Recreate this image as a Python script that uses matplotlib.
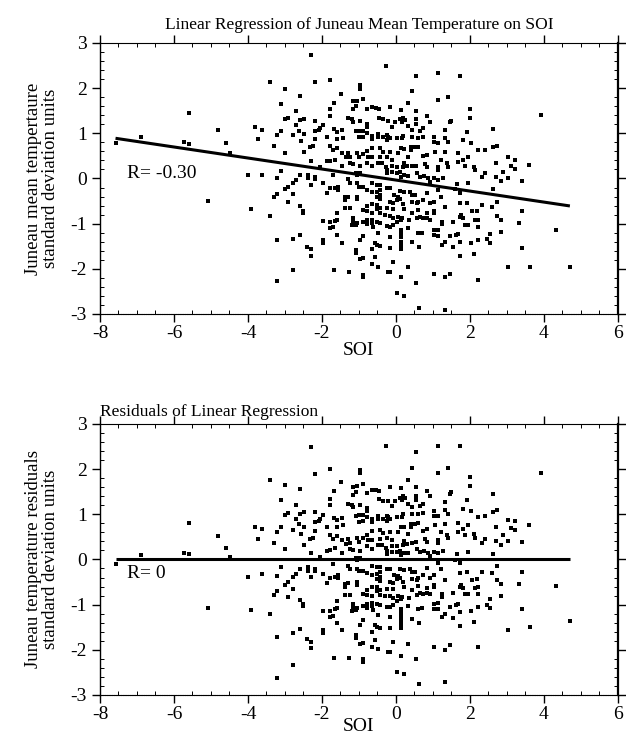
import numpy as np
import matplotlib
matplotlib.use("Agg")
import matplotlib.pyplot as plt
from matplotlib.ticker import MultipleLocator

plt.rcParams['font.family'] = ['Liberation Serif', 'DejaVu Serif']
plt.rcParams['axes.unicode_minus'] = False

# Monthly SOI and standardized Juneau mean temperature (x, y pairs)
soi = [
    -7.58, -6.89, -5.59, -5.72, -5.59, -4.80, -4.60, -4.49, -5.09, -4.01, -3.61, -3.92,
    -3.81, -3.61, -3.72, -3.40, -3.00, -3.11, -3.00, -2.91, -3.11, -3.22, -3.31, -3.00,
    -3.11, -3.22, -3.00, -2.91, -3.22, -3.31, -2.91, -3.40, -3.22, -3.22,
    -2.30, -2.19, -1.77, -0.27, -0.97, -0.97, -2.59, -1.49, -1.68, -1.15, -1.06, -0.88,
    -1.78, -1.08, -1.17, -0.78, -0.66, -0.54, -0.45, -2.70, -1.78, -2.59, -2.49, -2.19,
    -1.29, -1.20, -1.15, -0.97, -0.78, -0.78, -0.45, -0.34, -0.21, -2.70, -1.97, -2.05,
    -2.19, -2.07, -1.68, -1.59, -1.47, -2.61, -2.49, -2.79, -1.08, -0.99, -0.88, -0.78,
    -0.99, -0.90, -0.66, -0.66, -0.48, -0.48, -0.34, -0.21, -2.19, -1.87, -1.59, -1.42,
    -2.58, -2.32, -2.23, -1.78, -2.49, -1.69, -1.59, -1.47, -1.29, -1.24, -1.35, -1.06,
    -0.88, -0.78, -0.66, -0.43, -0.34, -0.99, -0.75, -0.66, -0.43, -0.25, -2.30, -2.05,
    -1.87, -1.78, -1.65, -1.47, -1.24, -1.15, -0.97, -0.78, -0.66, -0.48, -0.39, -0.27,
    -2.59, -2.70, -2.79, -2.37, -2.37, -2.19, -2.19, -1.70, -1.97, -2.30, -1.29, -1.24,
    -1.06, -0.97, -1.08, -1.78, -1.65, -1.56, -1.56, -1.87, -2.79, -1.04, -0.99, -0.88,
    -0.78, -0.66, -0.52, -0.43, -0.43, -0.52, -0.66, -0.43, -0.52, -0.43, -1.38, -1.29,
    -1.38, -1.06, -1.06, -2.59, -2.50, -2.50, -1.38, -1.24, -0.88, -0.78, -0.66, -0.78,
    -0.66, -0.52, -0.52, -0.43, -0.43, -1.59, -1.17, -1.17, -1.17, -1.06, -1.97, -1.78,
    -1.65, -1.59, -1.70, -1.78, -0.88, -0.79, -0.66, -0.66, -0.78, -0.62, -0.52, -0.43,
    -1.20, -1.08, -2.59, -2.79, -1.97, -1.97, -1.59, -1.47, -0.88, -0.97, -0.48, -0.57,
    -0.52, -0.43, -0.66, -2.40, -2.31, -2.31, -1.08, -1.08, -0.97, -0.88, -0.57, -0.66,
    -0.48, -2.79, -1.68, -1.27, -0.88, -0.88, -0.21,
    0.54, 1.13, 1.72, 0.44, 1.13, 1.41, 0.32, -0.16, 0.14, 0.54, 2.01, 2.01,
    0.83, 0.11, 0.20, 0.15, 0.24, -0.03, 0.54, 0.54, 0.92, 1.50, 1.46, -0.10,
    0.32, 0.44, 0.65, 0.74, 1.32, 1.91, 2.61, -0.23, -0.16, -0.23, 0.04, 0.15,
    0.20, 0.42, 0.60, 0.74, 1.04, 1.04, 1.13, 1.32, 1.41, 1.82, 2.03, -0.16,
    0.14, 0.22, 0.06, 0.41, 0.41, 0.51, 0.60, 0.33, 0.74, 0.83, 1.05, 1.32,
    1.23, 1.67, 1.95, 2.22, 2.41, 2.61, -0.12, 0.22, 0.29, 0.42, 0.53, 0.20,
    0.78, 0.83, 1.14, 1.37, 1.41, 1.68, 1.82, 1.86, 2.12, -0.10, 0.04,
    -0.25, -0.25, -0.12, 0.02, 0.11, 0.14, 0.22, 0.33, 0.56, 0.65, 0.76, 0.87,
    0.92, 1.04, 1.14, 1.14, 1.28, 1.64, 1.94, 2.14, 2.32, 2.41, 2.61, -0.25,
    -0.16, 0.11, 0.22, 0.38, 0.42, 0.51, -0.05, 0.06, 0.83, 1.14, 1.59, 1.73,
    -0.16, -0.07, 0.02, 0.11, 0.20, 0.42, 0.56, 0.60, 0.74, 0.92, 1.04, 1.23,
    -0.25, -0.07, 0.22, 0.60, 0.42, 0.83, 1.04, 1.04, 1.32, 1.73, 1.91, 2.06,
    2.32, 2.18, 2.59, -0.30, -0.16, -0.07, 0.06, 0.15, 0.02, 0.14, 0.35, 0.56,
    0.65, 0.74, 0.83, 0.92, -0.25, -0.16, -0.07, 0.14, 0.14, 0.14, 0.14, 0.14,
    0.14, 0.32, 0.60, 0.69, 1.04, 1.14, 1.04, 1.14, 1.25, 1.25, 1.55, 1.76,
    1.73, 1.82, 1.86, 1.95, 2.14, 2.22, 2.22, 1.61, 1.67, 1.46, 1.32, 1.25,
    1.73, 1.55, 2.22, 2.45, 2.03, 2.54, 0.44, 0.63, -0.16, -0.16, 2.12, 1.73,
    -0.07, 0.33, -0.16, 0.14, 0.54, 1.04, 1.32, 1.46, 2.22, 0.04, 0.22, 0.63,
    1.32,
    3.92, 2.72, 3.02, 3.22, 3.60, 2.70, 3.10, 3.22, 2.90, 2.70, 2.83, 3.02,
    3.41, 2.72, 2.72, 2.83, 3.41, 3.33, 4.32, 2.54, 2.83, 3.41, 3.02, 3.62,
    4.70,
]
temp = [
    0.78, 0.91, 1.46, 0.80, 0.77, 1.08, 0.79, 0.56, -0.49, 0.07, 0.08, -0.68,
    1.15, 1.07, 0.88, 2.14, 1.99, 1.65, 1.32, 1.35, 1.06, 0.96, 0.73, 0.57,
    0.17, 0.00, -0.23, -0.18, -0.34, -0.42, -0.52, -0.83, -1.36, -2.26,
    2.74, 2.13, 2.18, 2.50, 2.06, 1.99, 1.83, 1.87, 1.68, 1.71, 1.71, 1.75,
    1.53, 1.60, 1.53, 1.53, 1.58, 1.56, 1.54, 1.50, 1.38, 1.29, 1.31, 1.28,
    1.35, 1.31, 1.26, 1.28, 1.21, 1.13, 1.35, 1.31, 1.28, 1.18, 1.18, 1.12,
    1.06, 1.07, 1.09, 1.04, 1.07, 1.06, 0.98, 0.96, 1.06, 1.06, 1.06, 1.00,
    0.91, 0.92, 0.94, 0.87, 0.98, 0.91, 0.91, 0.92, 0.87, 0.91, 0.87, 0.90,
    0.84, 0.70, 0.72, 0.73, 0.59, 0.62, 0.67, 0.57, 0.57, 0.48, 0.48, 0.57,
    0.54, 0.60, 0.67, 0.67, 0.59, 0.47, 0.48, 0.48, 0.48, 0.47, 0.38, 0.26,
    0.39, 0.39, 0.41, 0.28, 0.34, 0.32, 0.28, 0.35, 0.28, 0.35, 0.34, 0.26,
    0.08, -0.03, -0.09, 0.08, 0.00, 0.03, -0.02, 0.08, -0.11, -0.14, -0.02, -0.09,
    0.08, 0.12, 0.13, -0.22, -0.22, -0.18, -0.25, -0.33, -0.34, -0.11, -0.18, -0.18,
    -0.25, -0.29, -0.29, -0.25, -0.14, -0.14, -0.11, -0.37, -0.40, -0.46, -0.40, -0.40,
    -0.48, -0.40, -0.46, -0.61, -0.71, -0.77, -0.66, -0.66, -0.70, -0.62, -0.56, -0.73,
    -0.76, -0.59, -0.68, -0.66, -0.77, -0.77, -0.88, -0.93, -0.99, -0.99, -0.94, -0.96,
    -0.94, -0.92, -1.07, -1.10, -0.96, -0.92, -0.99, -0.92, -1.01, -1.07, -0.96, -0.99,
    -1.03, -1.03, -1.25, -1.33, -1.36, -1.42, -1.25, -1.42, -1.27, -1.36, -1.21, -1.42,
    -1.47, -1.49, -1.57, -1.51, -1.57, -1.71, -1.58, -1.64, -1.79, -1.77, -1.74, -1.89,
    -1.95, -2.02, -2.02, -2.06, -2.13, -2.19, -2.06,
    2.27, 2.34, 2.27, 1.94, 1.74, 1.81, 1.68, 1.59, 1.52, 1.50, 1.54, 1.35,
    1.39, 1.32, 1.35, 1.26, 1.29, 1.26, 1.31, 1.21, 1.26, 1.28, 1.24, 1.15,
    1.16, 1.07, 1.06, 1.11, 1.07, 1.04, 1.10, 0.96, 0.89, 0.85, 0.89, 0.89,
    0.94, 0.92, 0.89, 0.91, 0.91, 0.81, 0.78, 0.89, 0.81, 0.85, 0.79, 0.59,
    0.67, 0.65, 0.57, 0.70, 0.63, 0.69, 0.69, 0.48, 0.50, 0.53, 0.59, 0.59,
    0.42, 0.57, 0.48, 0.63, 0.63, 0.69, 0.42, 0.35, 0.28, 0.28, 0.28, 0.26,
    0.32, 0.25, 0.26, 0.34, 0.26, 0.37, 0.41, 0.28, 0.26, 0.28, 0.26,
    0.19, 0.12, 0.15, 0.12, 0.15, 0.04, 0.08, 0.06, 0.12, 0.04, 0.06, 0.00,
    -0.07, 0.00, 0.19, -0.03, 0.00, -0.12, -0.11, 0.19, 0.04, 0.12, -0.24, -0.22,
    -0.22, -0.27, -0.29, -0.29, -0.37, -0.37, -0.37, -0.40, -0.33, -0.25, -0.24, -0.33,
    -0.51, -0.55, -0.48, -0.46, -0.56, -0.51, -0.55, -0.51, -0.48, -0.55, -0.51, -0.40,
    -0.66, -0.68, -0.68, -0.70, -0.76, -0.76, -0.73, -0.77, -0.64, -0.54, -0.55, -0.73,
    -0.59, -0.73, -0.64, -0.81, -0.83, -0.88, -0.85, -0.88, -0.96, -0.92, -0.92, -0.88,
    -0.85, -0.88, -0.88, -0.92, -1.05, -1.07, -1.03, -1.14, -1.21, -1.30, -1.40, -1.49,
    -1.57, -1.10, -1.20, -1.20, -1.14, -1.14, -1.25, -1.27, -0.96, -1.01, -0.96, -0.81,
    -0.86, -0.88, -1.03, -1.03, -0.92, -0.92, -1.08, -1.25, -1.23, -1.27, -1.40, -1.47,
    -1.40, -1.51, -1.36, -1.35, -1.43, -1.43, -1.40, -1.51, -1.30, -1.54, -1.67, -1.71,
    -1.86, -1.95, -2.06, -2.19, -2.31, -2.11, -2.19, -2.11, -2.25, -2.54, -2.60, -2.87,
    -2.91,
    1.40, 0.73, 0.47, 0.42, 0.29, 0.35, 0.28, 0.22, 0.15, 0.04, -0.05, 0.01,
    -0.06, -0.52, -0.83, -0.93, -0.73, -0.99, -1.14, -1.23, -1.18, -1.55, -1.97, -1.97,
    -1.97,
]

# Least-squares line of temperature on SOI, drawn over the SOI range
slope = -0.122
intercept = -0.035
line_x = [-7.58, 4.70]
r_text = ["R= -0.30", "R= 0"]

x = np.asarray(soi)
y = np.asarray(temp)
resid = y - (intercept + slope * x)
lx = np.asarray(line_x)

fig = plt.figure(figsize=(6.26, 7.46), dpi=100)
ax1 = fig.add_axes([0.1597, 0.5791, 0.8275, 0.3633])
ax2 = fig.add_axes([0.1597, 0.0684, 0.8275, 0.3633])


def style_axes(ax):
    ax.set_xlim(-8, 6)
    ax.set_ylim(-3, 3)
    ax.xaxis.set_major_locator(MultipleLocator(2))
    ax.xaxis.set_minor_locator(MultipleLocator(0.5))
    ax.yaxis.set_major_locator(MultipleLocator(1))
    ax.yaxis.set_minor_locator(MultipleLocator(0.2))
    ax.tick_params(axis='both', which='major', labelsize=14, length=6,
                   width=1.0, direction='out', top=True, right=True)
    ax.tick_params(axis='both', which='minor', length=3, width=0.7,
                   direction='in', top=True, right=True)
    ax.tick_params(axis='x', which='major', pad=2)
    ax.spines['top'].set_linewidth(0.8)
    ax.spines['top'].set_linestyle((0, (1, 1)))
    ax.spines['bottom'].set_linewidth(0.8)
    ax.spines['bottom'].set_linestyle((0, (1, 0.6)))
    ax.spines['left'].set_linewidth(1.0)
    ax.spines['right'].set_linewidth(1.6)


# Upper panel: temperature against SOI with the fitted line
ax1.scatter(x, y, s=6, marker='s', color='black', linewidths=0)
ax1.plot(lx, intercept + slope * lx, color='black', linewidth=2.2,
         solid_capstyle='butt')
ax1.text(-7.27, 0.12, r_text[0], fontsize=14, va='center', ha='left')
style_axes(ax1)
ax1.set_title("Linear Regression of Juneau Mean Temperature on SOI",
              fontsize=12.5, pad=10)
ax1.set_xlabel("SOI", fontsize=14, labelpad=0)
ax1.set_ylabel("Juneau mean tempertaure\nstandard deviation units",
               fontsize=13.5, labelpad=8, linespacing=1.0)

# Lower panel: residuals of the regression
ax2.scatter(x, resid, s=6, marker='s', color='black', linewidths=0)
ax2.plot(lx, np.zeros_like(lx), color='black', linewidth=2.2,
         solid_capstyle='butt')
ax2.text(-7.27, -0.32, r_text[1], fontsize=14, va='center', ha='left')
style_axes(ax2)
ax2.set_title("Residuals of Linear Regression", fontsize=12.5, loc='left',
              pad=6)
ax2.set_xlabel("SOI", fontsize=14, labelpad=-4)
ax2.set_ylabel("Juneau temperature residuals\nstandard deviation units",
               fontsize=13.5, labelpad=8, linespacing=1.0)

fig.savefig("out.png", dpi=100)
